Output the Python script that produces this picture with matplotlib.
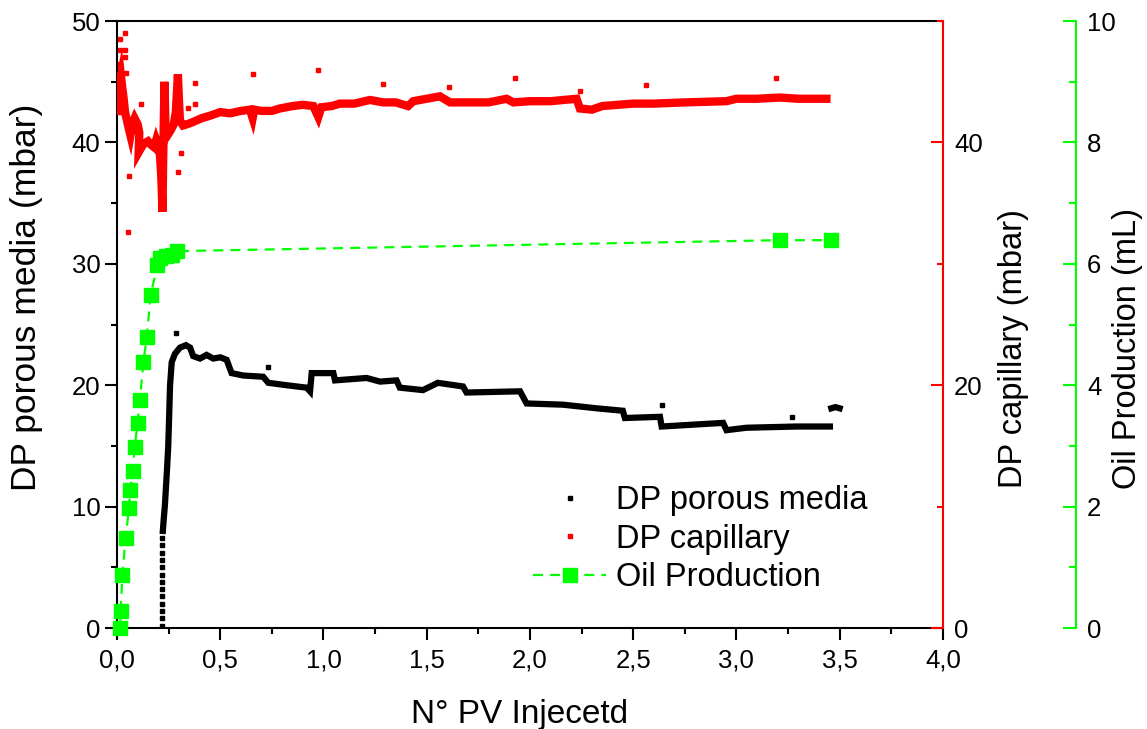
#!/usr/bin/env python3
"""Pressure drop and oil production versus injected pore volumes."""

import matplotlib

matplotlib.use("Agg")
import matplotlib.pyplot as plt
from matplotlib.lines import Line2D
from matplotlib.ticker import FuncFormatter, MultipleLocator

plt.rcParams["font.family"] = ["Liberation Sans", "DejaVu Sans"]

# DP porous media (mbar)
dp_pm_dots_x = [0.22] * 13
dp_pm_dots_y = [0.2, 0.8, 1.4, 2.0, 2.6, 3.2, 3.8, 4.4, 5.0, 5.6, 6.2, 6.8, 7.4]
dp_pm_x = [0.222, 0.226, 0.232, 0.242, 0.248, 0.252, 0.257, 0.265, 0.281, 0.305,
           0.334, 0.354, 0.369, 0.402, 0.434, 0.466, 0.50, 0.531, 0.555, 0.612,
           0.708, 0.733, 0.822, 0.919, 0.935, 0.943, 1.048, 1.056, 1.209, 1.274,
           1.354, 1.370, 1.482, 1.554, 1.676, 1.693, 1.952, 1.984, 2.160, 2.323,
           2.450, 2.460, 2.630, 2.638, 2.936, 2.952, 3.049, 3.291, 3.453]
dp_pm_y = [8.0, 8.9, 10.1, 13.0, 14.9, 17.1, 20.0, 21.9, 22.6, 23.1,
           23.3, 23.1, 22.4, 22.2, 22.5, 22.2, 22.3, 22.1, 21.0, 20.8,
           20.7, 20.2, 20.0, 19.8, 19.5, 21.0, 21.0, 20.4, 20.6, 20.3,
           20.4, 19.8, 19.6, 20.2, 19.9, 19.4, 19.5, 18.5, 18.4, 18.1,
           17.9, 17.3, 17.4, 16.6, 16.9, 16.3, 16.5, 16.6, 16.6]
dp_pm_end_x = [3.46, 3.48, 3.50]
dp_pm_end_y = [18.1, 18.2, 18.1]
dp_pm_out_x = [0.286, 0.731, 2.638, 3.27]
dp_pm_out_y = [24.3, 21.5, 18.4, 17.4]

# DP capillary (mbar)
dp_cap_x = [0.002, 0.010, 0.019, 0.027, 0.031, 0.039, 0.055, 0.065, 0.075, 0.085,
            0.100, 0.108, 0.105, 0.115, 0.130, 0.150, 0.165, 0.180, 0.190, 0.205,
            0.210, 0.215, 0.218, 0.220, 0.222, 0.224, 0.226, 0.228, 0.230, 0.232,
            0.235, 0.245, 0.260, 0.275, 0.285, 0.290, 0.295, 0.300, 0.305, 0.320,
            0.340, 0.370, 0.410, 0.450, 0.500, 0.547, 0.600, 0.644, 0.657, 0.665,
            0.700, 0.750, 0.789, 0.850, 0.900, 0.951, 0.975, 0.990, 1.040, 1.080,
            1.150, 1.225, 1.290, 1.350, 1.410, 1.435, 1.500, 1.564, 1.613, 1.700,
            1.800, 1.887, 1.920, 2.000, 2.100, 2.226, 2.242, 2.300, 2.350, 2.500,
            2.600, 2.750, 2.952, 3.000, 3.100, 3.210, 3.300, 3.436]
dp_cap_y = [42.6, 44.7, 45.5, 44.3, 43.8, 42.5, 41.3, 40.6, 41.6, 42.0,
            41.5, 40.8, 39.2, 39.5, 39.9, 40.1, 39.8, 39.6, 40.2, 39.5,
            38.5, 37.0, 35.5, 34.3, 36.5, 39.0, 41.0, 43.0, 45.0, 43.5,
            41.0, 40.6, 41.0, 41.5, 42.5, 44.0, 45.6, 43.5, 41.8, 41.4,
            41.5, 41.7, 42.0, 42.2, 42.5, 42.4, 42.6, 42.7, 42.0, 42.7,
            42.6, 42.6, 42.8, 43.0, 43.1, 43.0, 42.1, 42.9, 43.0, 43.2,
            43.2, 43.5, 43.3, 43.3, 43.0, 43.4, 43.6, 43.8, 43.3, 43.3,
            43.3, 43.6, 43.3, 43.4, 43.4, 43.6, 42.8, 42.7, 43.0, 43.2,
            43.2, 43.3, 43.4, 43.6, 43.6, 43.7, 43.6, 43.6]
dp_cap_out_x = [0.039, 0.015, 0.015, 0.039, 0.039, 0.015, 0.044, 0.060, 0.053, 0.116,
                0.378, 0.378, 0.345, 0.308, 0.297, 0.657, 0.975, 1.29, 1.608, 1.927,
                2.242, 2.560, 3.191]
dp_cap_out_y = [49.0, 48.5, 47.6, 47.6, 47.0, 46.5, 45.7, 37.2, 32.6, 43.2,
                44.9, 43.2, 42.8, 39.1, 37.6, 45.6, 46.0, 44.8, 44.6, 45.3,
                44.2, 44.7, 45.3]

# Oil production (mL)
oil_x = [0.015, 0.018, 0.026, 0.042, 0.058, 0.065, 0.076, 0.086, 0.100, 0.111,
         0.128, 0.144, 0.163, 0.196, 0.208, 0.237, 0.266, 0.293, 3.21, 3.46]
oil_y = [0.0, 0.28, 0.88, 1.49, 1.98, 2.28, 2.59, 2.99, 3.38, 3.76,
         4.39, 4.79, 5.49, 5.98, 6.10, 6.13, 6.15, 6.21, 6.39, 6.39]

RED = "#ff0000"
GREEN = "#00ff00"


def comma_fmt(value, _pos):
    return f"{value:.1f}".replace(".", ",")


def main() -> None:
    fig = plt.figure(figsize=(11.47, 7.29), dpi=100)
    ax = fig.add_axes([0.102, 0.1385, 0.720, 0.8326])
    ax2 = ax.twinx()
    ax3 = ax.twinx()

    # porous media
    ax.plot(dp_pm_dots_x, dp_pm_dots_y, ls="none", marker="s", ms=2.2, color="k")
    ax.plot(dp_pm_x, dp_pm_y, color="k", lw=4.5, solid_joinstyle="miter")
    ax.plot(dp_pm_end_x, dp_pm_end_y, color="k", lw=4.5)
    ax.plot(dp_pm_out_x, dp_pm_out_y, ls="none", marker="s", ms=3, color="k")

    # capillary
    ax2.plot(dp_cap_x, dp_cap_y, color=RED, lw=6, solid_joinstyle="miter")
    ax2.plot(dp_cap_out_x, dp_cap_out_y, ls="none", marker="s", ms=3.2, color=RED)

    # oil
    ax3.plot(oil_x, oil_y, color=GREEN, lw=1.6, ls="--", dashes=(4.5, 3.2),
             marker="s", ms=9.5, mec=GREEN, mfc=GREEN, clip_on=False)

    ax.set_xlim(0, 4.0)
    ax.set_ylim(0, 50)
    ax2.set_ylim(0, 50)
    ax3.set_ylim(0, 10)

    ax.xaxis.set_major_locator(MultipleLocator(0.5))
    ax.xaxis.set_minor_locator(MultipleLocator(0.25))
    ax.xaxis.set_major_formatter(FuncFormatter(comma_fmt))
    ax.yaxis.set_major_locator(MultipleLocator(10))
    ax.yaxis.set_minor_locator(MultipleLocator(5))
    ax2.yaxis.set_major_locator(MultipleLocator(20))
    ax2.yaxis.set_minor_locator(MultipleLocator(10))
    ax3.yaxis.set_major_locator(MultipleLocator(2))
    ax3.yaxis.set_minor_locator(MultipleLocator(1))

    for sp in ax.spines.values():
        sp.set_linewidth(1.5)
    ax.spines["right"].set_visible(False)
    for name in ("left", "top", "bottom"):
        ax2.spines[name].set_visible(False)
        ax3.spines[name].set_visible(False)
    ax2.spines["right"].set_color(RED)
    ax2.spines["right"].set_linewidth(1.5)
    ax3.spines["right"].set_position(("axes", 1.161))
    ax3.spines["right"].set_color(GREEN)
    ax3.spines["right"].set_linewidth(1.5)

    ax.tick_params(axis="both", which="major", direction="out", length=8.5,
                   width=1.5, labelsize=18.5)
    ax.tick_params(axis="x", which="major", pad=6)
    ax.tick_params(axis="both", which="minor", direction="out", length=4.5,
                   width=1.5)
    ax.tick_params(axis="x", top=False, which="both")
    ax2.tick_params(axis="y", which="major", direction="in", length=8.5, width=1.5,
                    color=RED, labelsize=18.5, pad=8)
    ax2.tick_params(axis="y", which="minor", direction="in", length=4.5, width=1.5,
                    color=RED)
    ax3.tick_params(axis="y", which="major", direction="in", length=9.5, width=1.5,
                    color=GREEN, labelsize=18.5, pad=8)
    ax3.tick_params(axis="y", which="minor", direction="in", length=5, width=1.5,
                    color=GREEN)

    ax.set_xlabel("N° PV Injecetd", fontsize=24)
    ax.set_ylabel("DP porous media (mbar)", fontsize=25.5)
    ax2.set_ylabel("DP capillary (mbar)", fontsize=23.5)
    ax3.set_ylabel("Oil Production (mL)", fontsize=23.5)
    for lab in (ax.xaxis.label, ax.yaxis.label, ax2.yaxis.label, ax3.yaxis.label):
        lab.set_verticalalignment("center")
    ax.xaxis.set_label_coords(0.488, -0.143)
    ax.yaxis.set_label_coords(-0.109, (628 - 297) / 607)
    ax2.yaxis.set_label_coords(1.086, (628 - 349) / 607)
    ax3.yaxis.set_label_coords(1.224, (628 - 348) / 607)

    handles = [
        Line2D([], [], ls="none", marker="s", ms=3, color="k"),
        Line2D([], [], ls="none", marker="s", ms=3, color=RED),
        Line2D([], [], color=GREEN, lw=1.6, ls="--", dashes=(4.5, 3.2),
               marker="s", ms=9.5),
    ]
    labels = ["DP porous media", "DP capillary", "Oil Production"]
    fig.legend(handles, labels, loc="upper left",
               bbox_to_anchor=(533 / 1147, 1 - 485 / 729), frameon=False,
               fontsize=23.5, handlelength=2.25, handletextpad=0.3,
               labelspacing=0.23, borderpad=0, borderaxespad=0)

    fig.savefig("out.png", dpi=100)


if __name__ == "__main__":
    main()
